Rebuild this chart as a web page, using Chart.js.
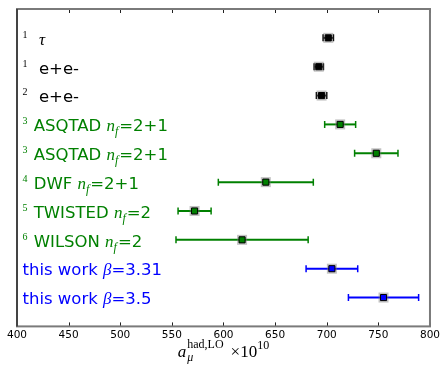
<!DOCTYPE html>
<html lang="en">
<head>
<meta charset="UTF-8">
<title>a_mu had,LO comparison</title>
<script src="https://cdn.jsdelivr.net/npm/chart.js"></script>
<style>
  html, body { margin: 0; padding: 0; background: #fff; }
  #wrap { width: 443px; height: 365px; }
</style>
</head>
<body>
<div id="wrap"><canvas id="chart"></canvas></div>
<script>
// rows, top to bottom
const refs    = ["1", "1", "2", "3", "3", "4", "5", "6", "", ""];
const names   = [" ", " e+e-", " e+e-", "ASQTAD ", "ASQTAD ", "DWF ", "TWISTED ", "WILSON ", "this work ", "this work "];
const symbols = ["τ", "", "", "n", "n", "n", "n", "n", "β", "β"];
const subs    = ["", "", "", "f", "f", "f", "f", "f", "", ""];
const tails   = ["", "", "", "=2+1", "=2+1", "=2+1", "=2", "=2", "=3.31", "=3.5"];
const groups  = ["pheno", "pheno", "pheno", "lattice", "lattice", "lattice", "lattice", "lattice", "ours", "ours"];
const values  = [701.5, 692.3, 695.0, 713, 748, 641, 572, 618, 705, 755];
const errors  = [5, 4.5, 5, 15, 21, 46, 16, 64, 25, 34];
const xTicks  = [400, 450, 500, 550, 600, 650, 700, 750, 800];

const colors = { pheno: "#000000", lattice: "#008000", ours: "#0000ff" };
const SANS = '"DejaVu Sans"';
const SERIF = '"Liberation Serif"';

// one scatter dataset per group
const datasets = Object.keys(colors).map(g => ({
    label: g,
    data: values.map((v, i) => ({ x: v, y: i + 1, g: groups[i] })).filter(p => p.g === g),
    pointStyle: "rect",
    pointRadius: 4.3,
    pointHoverRadius: 4.3,
    backgroundColor: colors[g],
    borderColor: "#000",
    borderWidth: 1
}));

// horizontal error bars with caps, plus a soft halo under each marker
const errorBars = {
    id: "errorBars",
    beforeDatasetsDraw(chart) {
        const { ctx, scales: { x, y } } = chart;
        ctx.save();
        values.forEach((v, i) => {
            const py = y.getPixelForValue(i + 1);
            const x0 = x.getPixelForValue(v - errors[i]);
            const x1 = x.getPixelForValue(v + errors[i]);
            ctx.strokeStyle = colors[groups[i]];
            ctx.lineWidth = 2;
            ctx.beginPath();
            ctx.moveTo(x0, py); ctx.lineTo(x1, py);
            ctx.stroke();
            ctx.lineWidth = 1.5;
            ctx.beginPath();
            ctx.moveTo(x0, py - 3.5); ctx.lineTo(x0, py + 3.5);
            ctx.moveTo(x1, py - 3.5); ctx.lineTo(x1, py + 3.5);
            ctx.stroke();
            const px = x.getPixelForValue(v);
            ctx.fillStyle = "rgba(120,120,120,0.45)";
            ctx.fillRect(px - 5, py - 5, 10, 10);
        });
        ctx.restore();
    }
};

// draws a run of [text, font, dy] pieces left to right
function drawRun(ctx, parts, x, y) {
    for (const [text, font, dy] of parts) {
        if (!text) continue;
        ctx.font = font;
        ctx.fillText(text, x, y + dy);
        x += ctx.measureText(text).width;
    }
    return x;
}

function measureRun(ctx, parts) {
    let w = 0;
    for (const [text, font] of parts) {
        if (!text) continue;
        ctx.font = font;
        w += ctx.measureText(text).width;
    }
    return w;
}

// frame, inward ticks, row labels and the x axis title
const decorations = {
    id: "decorations",
    afterDraw(chart) {
        const { ctx, chartArea: a, scales: { x, y } } = chart;
        ctx.save();

        // ticks pointing into the axes, top and bottom
        ctx.strokeStyle = "#222";
        ctx.lineWidth = 1;
        ctx.beginPath();
        xTicks.forEach(t => {
            const px = Math.round(x.getPixelForValue(t)) + 0.5;
            ctx.moveTo(px, a.top); ctx.lineTo(px, a.top + 4);
            ctx.moveTo(px, a.bottom); ctx.lineTo(px, a.bottom - 4);
        });
        ctx.stroke();

        // frame
        ctx.lineWidth = 2;
        ctx.strokeStyle = "#7a7a7a";
        ctx.strokeRect(a.left, a.top, a.right - a.left, a.bottom - a.top);
        ctx.strokeStyle = "#444";
        ctx.beginPath();
        ctx.moveTo(a.left, a.top); ctx.lineTo(a.left, a.bottom);
        ctx.stroke();

        // row labels
        ctx.textBaseline = "alphabetic";
        ctx.textAlign = "left";
        refs.forEach((r, i) => {
            const py = y.getPixelForValue(i + 1);
            const base = py + 6.8;
            ctx.fillStyle = colors[groups[i]];
            let px = a.left + 5.5;
            if (r) {
                ctx.font = `10px ${SERIF}`;
                ctx.fillText(r, px, base - 7);
                px = a.left + 16.7;
            }
            drawRun(ctx, [
                [names[i], `16.5px ${SANS}`, 0],
                [symbols[i], `italic 17px ${SERIF}`, 0],
                [subs[i], `italic 12px ${SERIF}`, 4],
                [subs[i] ? " " : "", `3px ${SANS}`, 0],
                [tails[i], `16.5px ${SANS}`, 0]
            ], px, base);
        });

        // x axis title: a_mu^{had,LO} x10^10
        ctx.fillStyle = "#000";
        const yb = 357;
        ctx.font = `italic 17px ${SERIF}`;
        const wa = ctx.measureText("a").width;
        ctx.font = `12px ${SERIF}`;
        const wSup = ctx.measureText("had,LO").width;
        ctx.font = `italic 12px ${SERIF}`;
        const wSub = ctx.measureText("μ").width;
        const tailParts = [
            ["×10", `17px ${SERIF}`, 0],
            ["10", `12px ${SERIF}`, -8]
        ];
        const gap = 7;
        const total = wa + 1 + Math.max(wSup, wSub) + gap + measureRun(ctx, tailParts);
        let tx = (a.left + a.right) / 2 - total / 2;
        ctx.font = `italic 17px ${SERIF}`;
        ctx.fillText("a", tx, yb);
        tx += wa + 1;
        ctx.font = `12px ${SERIF}`;
        ctx.fillText("had,LO", tx, yb - 9);
        ctx.font = `italic 12px ${SERIF}`;
        ctx.fillText("μ", tx, yb + 4);
        tx += Math.max(wSup, wSub) + gap;
        drawRun(ctx, tailParts, tx, yb);

        ctx.restore();
    }
};

new Chart(document.getElementById("chart"), {
    type: "scatter",
    data: { datasets },
    options: {
        responsive: true,
        maintainAspectRatio: false,
        animation: false,
        events: [],
        layout: { padding: { left: 17, right: 13, top: 9, bottom: 20 } },
        plugins: { legend: { display: false }, tooltip: { enabled: false } },
        scales: {
            x: {
                type: "linear",
                min: 400,
                max: 800,
                afterBuildTicks: s => { s.ticks = xTicks.map(v => ({ value: v })); },
                ticks: { color: "#000", font: { family: "DejaVu Sans", size: 10.5 }, padding: 3, maxRotation: 0 },
                grid: { display: false, drawTicks: false },
                border: { display: false }
            },
            y: {
                type: "linear",
                min: 0,
                max: 11,
                reverse: true,
                display: false
            }
        }
    },
    plugins: [errorBars, decorations]
});
</script>
</body>
</html>
